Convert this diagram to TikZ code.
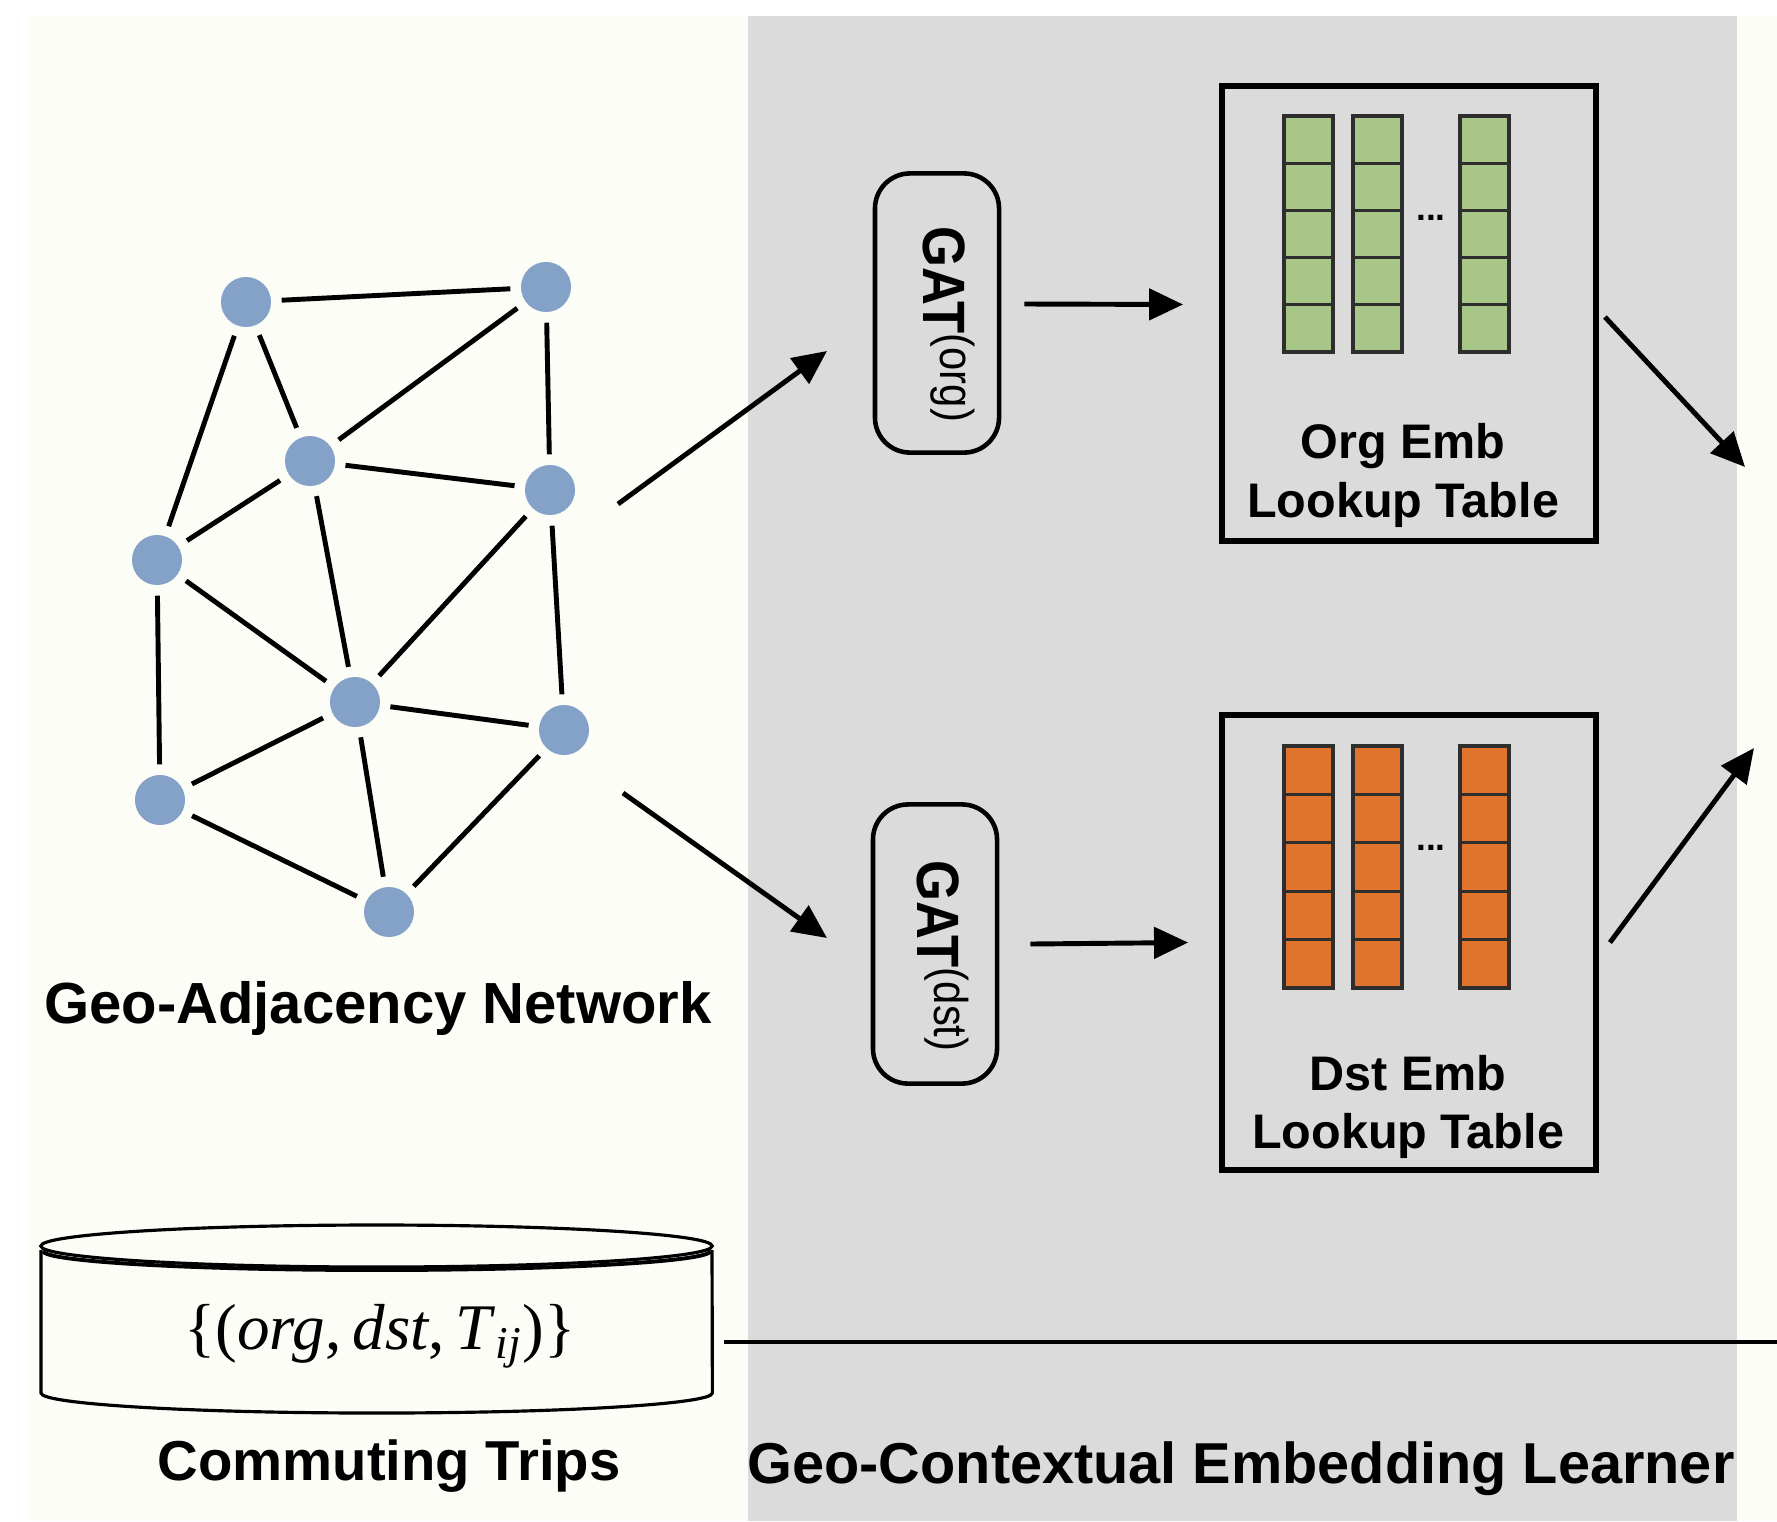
\documentclass[tikz,border=0pt]{standalone}
\usepackage{graphicx}
\usepackage{fontspec}
\setmainfont{Liberation Sans}
\newfontfamily\formulafont{Liberation Serif}
\usetikzlibrary{arrows.meta}
\definecolor{cream}{HTML}{FCFDF6}
\definecolor{panelgray}{HTML}{DBDBDB}
\definecolor{nodeblue}{HTML}{84A2C8}
\definecolor{cellgreen}{HTML}{A9C689}
\definecolor{cellorange}{HTML}{E0742C}
\definecolor{cellline}{HTML}{2E2E2E}
% narrow GAT label with a medium-weight superscript
\newcommand{\gatlabel}[1]{\scalebox{0.88}[1]{\bfseries\fontsize{17}{20}\selectfont
  GAT\raisebox{0.17cm}{\mdseries\fontsize{13.5}{15}\selectfont(#1)}}}
\begin{document}
\begin{tikzpicture}[x=0.01cm,y=-0.01cm,
  vert/.style={circle,fill=nodeblue,minimum size=0.5cm,inner sep=0pt},
  link/.style={line width=1.4pt,shorten <=0.1cm,shorten >=0.1cm},
  arr/.style={line width=1.4pt,-{Triangle[length=3.4mm,width=3.1mm]}},
  gatbox/.style={draw,line width=1.3pt,rounded corners=0.35cm,
    minimum width=1.24cm,minimum height=2.79cm,inner sep=0pt},
  gattext/.style={rotate=-90,anchor=base west,inner sep=0pt},
  tablebox/.style={draw,line width=1.6pt,minimum width=3.74cm,minimum height=4.55cm},
  cell/.style={draw=cellline,line width=0.9pt},
  captiontext/.style={font=\bfseries\fontsize{#1}{19}\selectfont,anchor=base},
  tabletext/.style={font=\bfseries\fontsize{13.8}{16}\selectfont,anchor=base},
  dotstext/.style={font=\bfseries\fontsize{10}{11}\selectfont},
]
% backgrounds
\fill[white] (0,0) rectangle (1777,1521);
\fill[cream] (27,16) rectangle (1777,1521);
\fill[panelgray] (748,16) rectangle (1737,1521);
\useasboundingbox (0,0) rectangle (1777,1521);

% geo-adjacency graph
\node[vert] (n1) at (246,302) {};
\node[vert] (n2) at (546,287) {};
\node[vert] (n3) at (310,461) {};
\node[vert] (n4) at (550,490) {};
\node[vert] (n5) at (157,560) {};
\node[vert] (n6) at (355,702) {};
\node[vert] (n7) at (564,730) {};
\node[vert] (n8) at (160,800) {};
\node[vert] (n9) at (389,912) {};
\foreach \a/\b in {n1/n2,n1/n5,n1/n3,n2/n3,n2/n4,n3/n4,n3/n5,n3/n6,n4/n6,
                   n4/n7,n5/n6,n5/n8,n6/n7,n6/n8,n6/n9,n7/n9,n8/n9}
  \draw[link] (\a) -- (\b);
\node[captiontext=16.5] at (378,1023) {Geo-Adjacency Network};

% graph attention encoders
\node[gatbox] (gorg) at (937,313) {};
\node[gatbox] (gdst) at (935,944) {};
\node[gattext] (gorg-label) at (923,226) {\gatlabel{org}};
\node[gattext] (gdst-label) at (917,860) {\gatlabel{dst}};

% embedding lookup tables
\node[tablebox] (torg) at (1409,313.5) {};
\node[tablebox] (tdst) at (1409,942.5) {};
\foreach \cx in {1284,1353,1460}
  \foreach \k in {0,...,4} {
    \draw[cell,fill=cellgreen] (\cx,{116+47.2*\k}) rectangle ++(49,47.2);
    \draw[cell,fill=cellorange] (\cx,{746+48.4*\k}) rectangle ++(49,48.4);
  }
\node[dotstext] (org-dots) at (1431,218) {...};
\node[dotstext] (dst-dots) at (1431,848) {...};
\node[tabletext] (org-name) at (1403,458) {Org Emb};
\node[tabletext] (org-kind) at (1403,517) {Lookup Table};
\node[tabletext] (dst-name) at (1408,1090) {Dst Emb};
\node[tabletext] (dst-kind) at (1408,1148) {Lookup Table};

% connectors
\coordinate (g-out1) at (618,504);
\coordinate (g-out2) at (623,793);
\coordinate (gorg-in) at (827,351);
\coordinate (gdst-in) at (827,938);
\coordinate (org-out) at (1745,467);
\coordinate (dst-out) at (1754,748);
\draw[arr] (g-out1) -- (gorg-in);
\draw[arr] (g-out2) -- (gdst-in);
\draw[arr] ([xshift=0.23cm,yshift=0.09cm]gorg.east) -- ([xshift=-0.36cm,yshift=0.09cm]torg.west);
\draw[arr] ([xshift=0.31cm]gdst.east) -- ([xshift=-0.31cm]tdst.west);
\draw[arr] ([xshift=0.06cm,yshift=-0.035cm]torg.east) -- (org-out);
\draw[arr] ([xshift=0.11cm]tdst.east) -- (dst-out);

% commuting trips store
\draw[line width=0.9pt] (41,1250) -- (41,1393)
  arc[start angle=180,end angle=360,x radius=3.355cm,y radius=0.2cm] -- (712,1250);
\draw[line width=0.9pt] (376.5,1246) ellipse[x radius=3.355cm,y radius=0.21cm];
\draw[line width=1.1pt] (43,1251)
  arc[start angle=180,end angle=360,x radius=3.335cm,y radius=0.19cm];
\node[font=\formulafont\fontsize{18.5}{21}\selectfont] (trips) at (380,1336)
  {\{(\textit{org},\,\textit{dst},\,\textit{T}\textsubscript{\textit{ij}})\}};
\node[captiontext=16] at (389,1480) {Commuting Trips};
\coordinate (cyl-out) at (724,1342);
\coordinate (line-end) at (1777,1342);
\draw[line width=1.3pt] (cyl-out) -- (line-end);

\node[captiontext=16.4] at (1241,1483) {Geo-Contextual Embedding Learner};
\end{tikzpicture}
\end{document}
